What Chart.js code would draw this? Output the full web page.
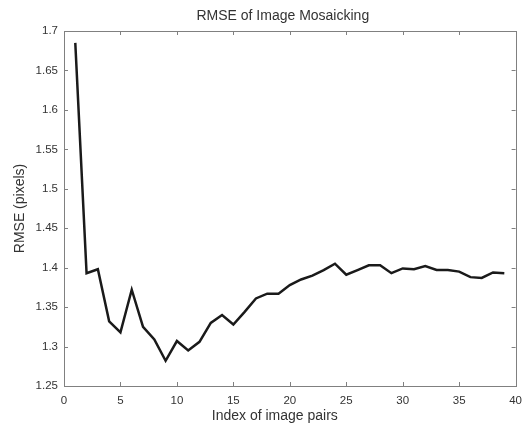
<!DOCTYPE html>
<html>
<head>
<meta charset="utf-8">
<script src="https://cdn.jsdelivr.net/npm/chart.js@4.4.0/dist/chart.umd.min.js"></script>
<style>
  html, body { margin: 0; padding: 0; background: #fff; }
  #wrap { width: 530px; height: 424px; }
</style>
</head>
<body>
<div id="wrap"><canvas id="myChart" width="530" height="424"></canvas></div>
<script>
const TITLE = 'RMSE of Image Mosaicking';
const XLABEL = 'Index of image pairs';
const YLABEL = 'RMSE (pixels)';

// index of image pair (1..39)
const pairIndex = [1, 2, 3, 4, 5, 6, 7, 8, 9, 10, 11, 12, 13, 14, 15, 16, 17, 18, 19, 20,
  21, 22, 23, 24, 25, 26, 27, 28, 29, 30, 31, 32, 33, 34, 35, 36, 37, 38, 39];
// RMSE
const rmse = [1.685, 1.393, 1.398, 1.332, 1.318, 1.372, 1.325, 1.309, 1.282, 1.307,
  1.295, 1.306, 1.330, 1.340, 1.328, 1.344, 1.361, 1.367, 1.367, 1.378,
  1.385, 1.390, 1.397, 1.405, 1.391, 1.397, 1.403, 1.403, 1.393, 1.399,
  1.398, 1.402, 1.397, 1.397, 1.395, 1.388, 1.387, 1.394, 1.393];

const xTicks = [0, 5, 10, 15, 20, 25, 30, 35, 40];
const yTicks = [1.25, 1.3, 1.35, 1.4, 1.45, 1.5, 1.55, 1.6, 1.65, 1.7];

const FONT = 'Liberation Sans, Arial, Helvetica, sans-serif';
const TEXT = '#333333';
const AXIS = '#808080';

// matlab style box with inward ticks on all four sides, plus title / x label
const boxTicks = {
  id: 'boxTicks',
  afterDraw(chart) {
    const ctx = chart.ctx;
    const a = chart.chartArea;
    const xs = chart.scales.x, ys = chart.scales.y;
    const len = 4;
    ctx.save();
    ctx.strokeStyle = AXIS;
    ctx.lineWidth = 1;
    ctx.beginPath();
    xTicks.forEach(v => {
      const px = Math.round(xs.getPixelForValue(v)) + 0.5;
      ctx.moveTo(px, a.bottom); ctx.lineTo(px, a.bottom - len);
      ctx.moveTo(px, a.top); ctx.lineTo(px, a.top + len);
    });
    yTicks.forEach(v => {
      const py = Math.round(ys.getPixelForValue(v)) + 0.5;
      ctx.moveTo(a.left, py); ctx.lineTo(a.left + len, py);
      ctx.moveTo(a.right, py); ctx.lineTo(a.right - len, py);
    });
    ctx.stroke();
    ctx.strokeRect(Math.round(a.left) + 0.5, Math.round(a.top) + 0.5,
      Math.round(a.right - a.left), Math.round(a.bottom - a.top));

    // titles sit a bit left of the axes centre in the original
    const cx = (a.left + a.right) / 2;
    ctx.fillStyle = TEXT;
    ctx.textAlign = 'center';
    ctx.textBaseline = 'alphabetic';
    ctx.font = '14px ' + FONT;
    ctx.fillText(TITLE, cx - 7, 20);
    ctx.fillText(XLABEL, cx - 15, 420);
    ctx.restore();
  }
};

const data = {
  datasets: [{
    data: pairIndex.map((x, i) => ({x: x, y: rmse[i]})),
    borderColor: '#1a1a1a',
    borderWidth: 2.5,
    pointRadius: 0,
    tension: 0,
    fill: false,
  }]
};

const config = {
  type: 'line',
  data: data,
  options: {
    responsive: false,
    animation: false,
    layout: {padding: {left: 0, right: 12, top: 31, bottom: 0}},
    plugins: {
      legend: {display: false},
      tooltip: {enabled: false},
      title: {display: false}
    },
    scales: {
      x: {
        type: 'linear',
        min: 0, max: 40,
        afterBuildTicks: s => { s.ticks = xTicks.map(v => ({value: v})); },
        afterFit: s => { s.height = 38; },
        grid: {display: false, drawTicks: false},
        border: {display: false},
        ticks: {
          color: TEXT, padding: 8,
          font: {family: FONT, size: 11.5},
          maxRotation: 0,
          callback: v => String(v)
        }
      },
      y: {
        type: 'linear',
        min: 1.25, max: 1.7,
        afterBuildTicks: s => { s.ticks = yTicks.map(v => ({value: v})); },
        afterFit: s => { s.width = 64; },
        grid: {display: false, drawTicks: false},
        border: {display: false},
        ticks: {
          color: TEXT, padding: 6,
          font: {family: FONT, size: 11.5},
          callback: v => String(+(+v).toFixed(2))
        },
        title: {
          display: true, text: YLABEL, color: TEXT,
          font: {family: FONT, size: 14},
          padding: {top: 12, bottom: 0}
        }
      }
    }
  },
  plugins: [boxTicks]
};

const myChart = new Chart(document.getElementById('myChart'), config);
</script>
</body>
</html>
